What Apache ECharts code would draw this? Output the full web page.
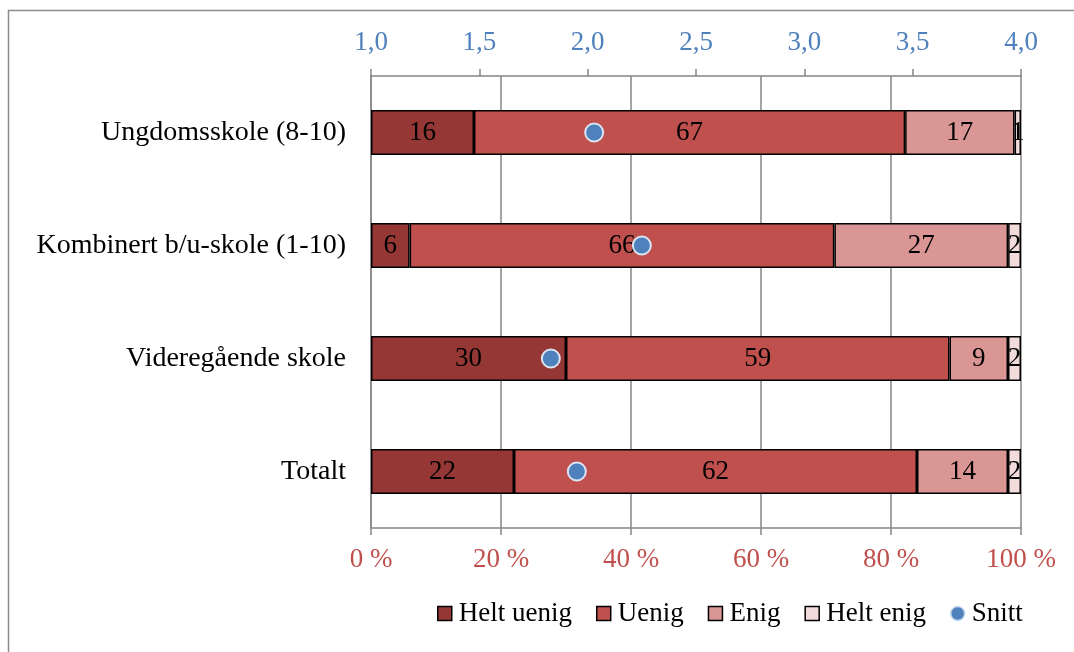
<!DOCTYPE html>
<html>
<head>
<meta charset="utf-8">
<script src="https://cdn.jsdelivr.net/npm/echarts@6/dist/echarts.min.js"></script>
<style>
  html, body { margin: 0; padding: 0; background: #fff; }
  #chart { width: 1074px; height: 652px; }
</style>
</head>
<body>
<div id="chart"></div>
<script>
// School types (top to bottom)
const categories = ['Ungdomsskole (8-10)', 'Kombinert b/u-skole (1-10)', 'Videregående skole', 'Totalt'];

// Share of answers per response option (percent, as labelled)
const heltUenig = [16, 6, 30, 22];
const uenig     = [67, 66, 59, 62];
const enig      = [17, 27, 9, 14];
const heltEnig  = [1, 2, 2, 2];

// Mean score on the 1–4 scale
const snitt = [2.03, 2.25, 1.83, 1.95];

const seriesNames = ['Helt uenig', 'Uenig', 'Enig', 'Helt enig'];
const seriesData = [heltUenig, uenig, enig, heltEnig];
const seriesColors = ['#953735', '#c0504d', '#d99694', '#f2dcdb'];

// Row totals, so every bar fills 0–100 %
const rowTotals = categories.map((_, i) => seriesData.reduce((s, arr) => s + arr[i], 0));

const serif = '"Liberation Serif", "DejaVu Serif", serif';

const barSeries = seriesNames.map((name, k) => ({
  name,
  type: 'bar',
  stack: 'total',
  xAxisIndex: 0,
  yAxisIndex: 0,
  barWidth: 45,
  itemStyle: { color: seriesColors[k], borderColor: '#000', borderWidth: 1.5 },
  label: {
    show: true,
    position: 'inside',
    color: '#000',
    fontFamily: serif,
    fontSize: 27,
    formatter: p => String(seriesData[k][p.dataIndex])
  },
  data: seriesData[k].map((v, i) => v / rowTotals[i] * 100)
}));

const legendBox = { borderColor: '#000', borderWidth: 1.5 };

const chart = echarts.init(document.getElementById('chart'));
chart.setOption({
  animation: false,
  backgroundColor: '#fff',
  textStyle: { fontFamily: serif },
  graphic: [{
    type: 'rect',
    shape: { x: 8.5, y: 10.5, width: 1100, height: 700 },
    style: { fill: 'none', stroke: '#8c8c8c', lineWidth: 1.5 },
    silent: true,
    z: -10
  }],
  grid: { left: 371, right: 53, top: 76, bottom: 124, containLabel: false },
  legend: {
    top: 600,
    left: 437,
    padding: 0,
    itemWidth: 14,
    itemHeight: 14,
    itemGap: 24,
    textStyle: { fontFamily: serif, fontSize: 27, color: '#000', padding: [0, 0, 0, 2] },
    data: [
      { name: 'Helt uenig', icon: 'rect', itemStyle: legendBox },
      { name: 'Uenig', icon: 'rect', itemStyle: legendBox },
      { name: 'Enig', icon: 'rect', itemStyle: legendBox },
      { name: 'Helt enig', icon: 'rect', itemStyle: legendBox },
      { name: 'Snitt', icon: 'circle', itemStyle: { borderColor: '#c6d9f1', borderWidth: 1.5 } }
    ]
  },
  xAxis: [
    {
      type: 'value',
      position: 'bottom',
      min: 0,
      max: 100,
      interval: 20,
      axisLine: { show: true, lineStyle: { color: '#868686', width: 1.5 } },
      axisTick: { show: true, length: 7, lineStyle: { color: '#868686', width: 1.5 } },
      splitLine: { show: true, lineStyle: { color: '#868686', width: 1.5 } },
      axisLabel: { color: '#c0504d', fontSize: 27, fontFamily: serif, margin: 18, formatter: v => v + ' %' }
    },
    {
      type: 'value',
      position: 'top',
      min: 1,
      max: 4,
      interval: 0.5,
      axisLine: { show: true, lineStyle: { color: '#868686', width: 1.5 } },
      axisTick: { show: true, length: 7, lineStyle: { color: '#868686', width: 1.5 } },
      splitLine: { show: false },
      axisLabel: { color: '#4f81bd', fontSize: 27, fontFamily: serif, margin: 20, formatter: v => v.toFixed(1).replace('.', ',') }
    }
  ],
  yAxis: {
    type: 'category',
    inverse: true,
    data: categories,
    axisLine: { show: true, lineStyle: { color: '#868686', width: 1.5 } },
    axisTick: { show: false },
    axisLabel: { color: '#000', fontSize: 28, fontFamily: serif, margin: 25 }
  },
  series: [
    ...barSeries,
    {
      name: 'Snitt',
      type: 'scatter',
      xAxisIndex: 1,
      yAxisIndex: 0,
      symbol: 'circle',
      symbolSize: 18,
      itemStyle: { color: '#4f81bd', borderColor: '#dbe5f1', borderWidth: 2, opacity: 1 },
      z: 5,
      data: snitt.map((v, i) => [v, categories[i]])
    }
  ]
});
</script>
</body>
</html>
